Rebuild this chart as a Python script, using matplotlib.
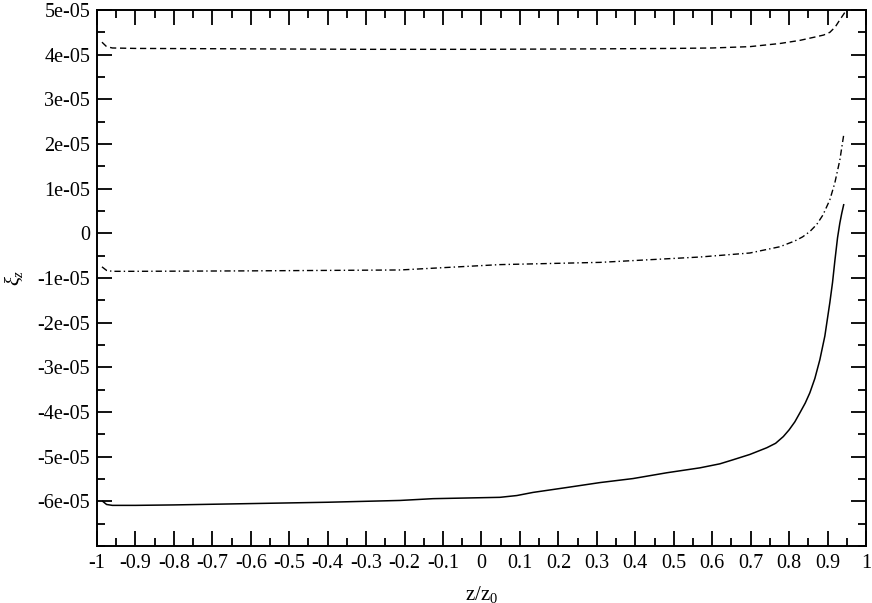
import numpy as np
import matplotlib
matplotlib.use("Agg")
import matplotlib.pyplot as plt
from matplotlib.ticker import MultipleLocator

plt.rcParams['font.family'] = ['Liberation Serif', 'DejaVu Serif']
plt.rcParams['mathtext.fontset'] = 'custom'
plt.rcParams['mathtext.rm'] = 'Liberation Serif'
plt.rcParams['mathtext.it'] = 'Liberation Serif:italic'

# values in units of 1e-05
x_solid = [-0.985, -0.975, -0.96, -0.9, -0.8, -0.6, -0.4, -0.212, -0.126, 0.048, 0.092,
           0.134, 0.222, 0.308, 0.394, 0.482, 0.568, 0.62, 0.654, 0.698, 0.742, 0.765,
           0.785, 0.80, 0.815, 0.828, 0.842, 0.854, 0.867, 0.88, 0.893, 0.906, 0.913,
           0.919, 0.926, 0.932, 0.937, 0.942]
y_solid = [-6.0, -6.07, -6.09, -6.09, -6.08, -6.05, -6.02, -5.98, -5.94, -5.91, -5.87,
           -5.80, -5.69, -5.58, -5.49, -5.36, -5.25, -5.16, -5.07, -4.95, -4.8, -4.7,
           -4.55, -4.4, -4.22, -4.02, -3.8, -3.57, -3.25, -2.83, -2.3, -1.55, -1.1,
           -0.62, -0.1, 0.23, 0.45, 0.64]

x_dash = [-0.987, -0.975, -0.96, -0.9, -0.6, -0.3, 0.0, 0.3, 0.5, 0.6, 0.698, 0.776,
          0.828, 0.87, 0.89, 0.906, 0.92, 0.932, 0.943, 0.952]
y_dash = [4.28, 4.18, 4.15, 4.14, 4.13, 4.12, 4.12, 4.13, 4.14, 4.15, 4.18, 4.25,
          4.32, 4.4, 4.44, 4.5, 4.62, 4.78, 4.92, 5.05]

x_dashdot = [-0.987, -0.975, -0.96, -0.9, -0.6, -0.212, 0.048, 0.308, 0.568, 0.698,
             0.776, 0.815, 0.835, 0.854, 0.872, 0.888, 0.906, 0.919, 0.932, 0.942]
y_dashdot = [-0.75, -0.83, -0.85, -0.85, -0.84, -0.82, -0.70, -0.65, -0.53, -0.44,
             -0.30, -0.17, -0.08, 0.04, 0.2, 0.41, 0.75, 1.13, 1.64, 2.2]

x_ticks = np.round(np.arange(-1, 1.01, 0.1), 1)
x_ticklabels = ['-1', '-0.9', '-0.8', '-0.7', '-0.6', '-0.5', '-0.4', '-0.3', '-0.2', '-0.1',
                '0', '0.1', '0.2', '0.3', '0.4', '0.5', '0.6', '0.7', '0.8', '0.9', '1']
y_ticks = [5e-05, 4e-05, 3e-05, 2e-05, 1e-05, 0, -1e-05, -2e-05, -3e-05, -4e-05, -5e-05, -6e-05]
y_ticklabels = ['5e-05', '4e-05', '3e-05', '2e-05', '1e-05', '0', '-1e-05', '-2e-05',
                '-3e-05', '-4e-05', '-5e-05', '-6e-05']

fig = plt.figure(figsize=(8.72, 6.03), dpi=100)
ax = fig.add_axes([0.1112, 0.0945, 0.8819, 0.8889])

scale = 1e-05
ax.plot(x_solid, np.array(y_solid) * scale, color='black', lw=1.1)
ax.plot(x_dash, np.array(y_dash) * scale, color='black', lw=1.0, dashes=(4.5, 2.7))
ax.plot(x_dashdot, np.array(y_dashdot) * scale, color='black', lw=1.0,
        dashes=(4.5, 2.2, 1.0, 2.2))

ax.set_xlim(-1, 1)
ax.set_ylim(-7e-05, 5e-05)
ax.set_xticks(x_ticks)
ax.set_xticklabels(x_ticklabels)
ax.set_yticks(y_ticks)
ax.set_yticklabels(y_ticklabels)
ax.xaxis.set_minor_locator(MultipleLocator(0.05))
ax.yaxis.set_minor_locator(MultipleLocator(0.5e-05))

ax.tick_params(which='both', direction='in', top=True, right=True, labelsize=14.5, width=1.3)
ax.tick_params(which='major', length=10.5)
ax.tick_params(which='minor', length=5.5)
ax.tick_params(axis='y', pad=5)
ax.tick_params(axis='x', pad=6)
for s in ax.spines.values():
    s.set_linewidth(1.4)

ax.set_xlabel(r'z/z$_0$', fontsize=15)
ax.set_ylabel(r'$\xi_z$', fontsize=15)
ax.xaxis.set_label_coords(0.5, -0.07)
ax.yaxis.set_label_coords(-0.093, 0.5)

fig.savefig('out.png', dpi=100)
